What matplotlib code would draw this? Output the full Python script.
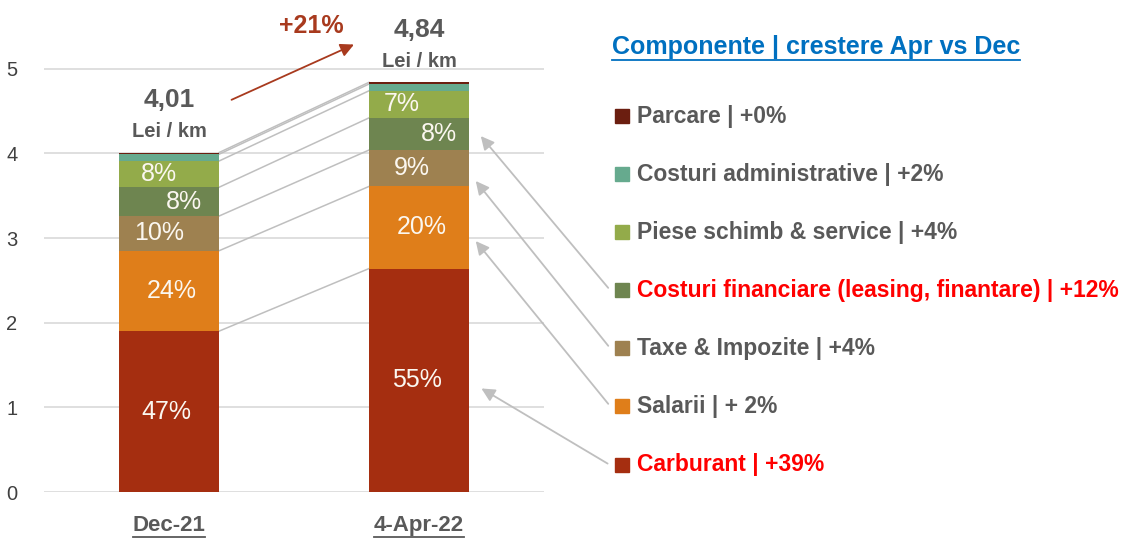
import matplotlib
matplotlib.use("Agg")
import matplotlib.pyplot as plt
from matplotlib.lines import Line2D
import numpy as np

# Données
categories = ["Dec-21", "4-Apr-22"]
componente = ["Carburant", "Salarii", "Taxe & Impozite",
              "Costuri financiare", "Piese schimb & service",
              "Costuri administrative", "Parcare"]
valori_dec = [1.90, 0.95, 0.41, 0.34, 0.31, 0.08, 0.02]
valori_apr = [2.64, 0.97, 0.43, 0.38, 0.32, 0.08, 0.02]
etichete_dec = ["47%", "24%", "10%", "8%", "8%", "", ""]
etichete_apr = ["55%", "20%", "9%", "8%", "7%", "", ""]
totaluri = ["4,01", "4,84"]
crestere_total = "+21%"
legenda = ["Parcare | +0%", "Costuri administrative | +2%",
           "Piese schimb & service | +4%",
           "Costuri financiare (leasing, finantare) | +12%",
           "Taxe & Impozite | +4%", "Salarii | + 2%", "Carburant | +39%"]
legenda_rosu = [False, False, False, True, False, False, True]

culori = ["#A52E10", "#DF7E1A", "#9E8150", "#6E8550", "#93AB4A", "#66AA8E", "#6B1E10"]
culori_legenda = culori[::-1]

plt.rcParams["font.family"] = ["Liberation Sans", "DejaVu Sans"]

fig = plt.figure(figsize=(11.32, 5.4), dpi=100)
W, H = 1132, 540
ax = fig.add_axes([44 / W, 48 / H, 500 / W, (492 - 18) / H])

x = np.arange(len(categories))
latime = 0.4
dec = np.array(valori_dec)
apr = np.array(valori_apr)
baza_dec = np.concatenate([[0], np.cumsum(dec)[:-1]])
baza_apr = np.concatenate([[0], np.cumsum(apr)[:-1]])

for i in range(len(componente)):
    ax.bar(x, [dec[i], apr[i]], bottom=[baza_dec[i], baza_apr[i]], width=latime,
           color=culori[i], zorder=3)

# etichete procentuale
dx_dec = [-0.01, 0.01, -0.04, 0.06, -0.04]
dx_apr = [-0.01, 0.01, -0.03, 0.08, -0.07]
for i in range(5):
    ax.text(x[0] + dx_dec[i], baza_dec[i] + dec[i] / 2, etichete_dec[i], ha="center", va="center",
            color="#FBF7F0", fontsize=18, zorder=5)
    ax.text(x[1] + dx_apr[i], baza_apr[i] + apr[i] / 2, etichete_apr[i], ha="center", va="center",
            color="#FBF7F0", fontsize=18, zorder=5)

# linii de serie intre bare
top_dec = np.cumsum(dec)
top_apr = np.cumsum(apr)
for i in range(len(componente)):
    ax.plot([x[0] + latime / 2, x[1] - latime / 2], [top_dec[i], top_apr[i]],
            color="#BFBFBF", lw=1.1, zorder=2)

ax.set_xlim(-0.5, 1.5)
ax.set_ylim(0, 5.6)
ax.set_yticks(range(6))
ax.yaxis.grid(True, color="#D9D9D9", lw=1.2, zorder=0)
ax.set_axisbelow(True)
for s in ax.spines.values():
    s.set_visible(False)
ax.tick_params(axis="y", length=0, labelsize=14.5, labelcolor="#404040", pad=19)
ax.tick_params(axis="x", length=0)
ax.set_xticks([])

# totaluri
texte_sub = []
for xi, tot, top in zip(x, totaluri, [top_dec[-1], top_apr[-1]]):
    ax.text(xi, top + 0.62, tot, ha="center", va="center", fontsize=19, fontweight="bold",
            color="#595959", clip_on=False)
    ax.text(xi, top + 0.25, "Lei / km", ha="center", va="center", fontsize=14.5, fontweight="bold",
            color="#595959", clip_on=False)

ax.text(0.57, 5.51, crestere_total, ha="center", va="center", fontsize=18, fontweight="bold",
        color="#A83A1E", clip_on=False)
ax.annotate("", xy=(0.75, 5.3), xytext=(0.24, 4.62),
            arrowprops=dict(arrowstyle="-|>", color="#A83A1E", lw=1.3, mutation_scale=20),
            annotation_clip=False)

# etichete categorii (subliniate)
for xi, c in zip(x, categories):
    t = ax.text(xi, -0.4, c, ha="center", va="center", fontsize=16, fontweight="bold",
                color="#595959", clip_on=False)
    texte_sub.append((t, "#595959"))

# legenda
titlu = fig.text(612 / W, 1 - 47 / H, "Componente | crestere Apr vs Dec", ha="left", va="center",
                 fontsize=18, fontweight="bold", color="#0070C0")
texte_sub.append((titlu, "#0070C0"))

y_leg = [116, 174, 232, 290, 348, 406, 465]
for yl, txt, rosu, col in zip(y_leg, legenda, legenda_rosu, culori_legenda):
    fig.patches.append(plt.Rectangle((615 / W, 1 - (yl + 7) / H), 14 / W, 14 / H,
                                     transform=fig.transFigure, color=col, figure=fig))
    fig.text(637 / W, 1 - yl / H, txt, ha="left", va="center", fontsize=16.5, fontweight="bold",
             color="#FF0000" if rosu else "#595959")

# sageti din legenda catre bara Apr
tinte = [(1.24, 4.23, 290), (1.22, 3.70, 348), (1.22, 2.99, 406), (1.24, 1.24, 465)]
for tx, ty, yl in tinte:
    ax.annotate("", xy=(tx, ty), xycoords="data", xytext=(610 / W, 1 - yl / H),
                textcoords="figure fraction",
                arrowprops=dict(arrowstyle="-|>", color="#BFBFBF", lw=1.3, mutation_scale=20),
                annotation_clip=False)

# sublinieri
fig.canvas.draw()
r = fig.canvas.get_renderer()
for t, col in texte_sub:
    bb = t.get_window_extent(renderer=r)
    yline = bb.y0 - 1
    fig.add_artist(Line2D([bb.x0 / W, bb.x1 / W], [yline / H, yline / H], color=col, lw=1.3,
                          transform=fig.transFigure))

fig.savefig("out.png", dpi=100)
